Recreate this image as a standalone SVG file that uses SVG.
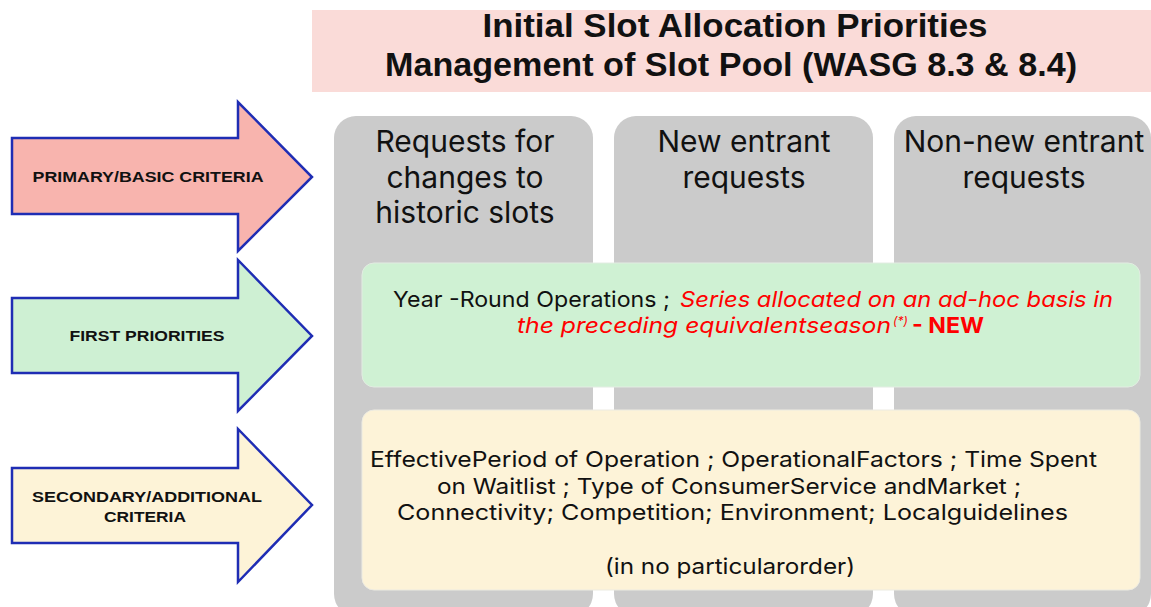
<svg xmlns="http://www.w3.org/2000/svg" width="1151" height="607" viewBox="0 0 1151 607">
  <style>
    .arrow { stroke: #1f2db4; stroke-width: 2.5; stroke-linejoin: miter; }
    .alabel { font-family: "Liberation Sans", Arial, sans-serif; font-weight: bold; font-size: 15px; fill: #111; text-anchor: middle; }
    .col { fill: #cbcbcb; }
    .colhead { font-family: Inter, "Liberation Sans", sans-serif; font-size: 30px; fill: #111; text-anchor: middle; }
    .body { font-family: Inter, "Liberation Sans", sans-serif; font-size: 22px; fill: #111; }
    .red { fill: #ff0000; }
    .it { font-style: italic; }
    .title { font-family: "Liberation Sans", Arial, sans-serif; font-weight: bold; font-size: 33px; fill: #111; text-anchor: middle; }
  </style>

  <!-- title banner -->
  <g id="title">
    <rect x="312" y="10" width="839" height="82" fill="#fadbd8"/>
    <text class="title" x="735" y="37" textLength="505" lengthAdjust="spacingAndGlyphs">Initial Slot Allocation Priorities</text>
    <text class="title" x="731" y="76" textLength="692" lengthAdjust="spacingAndGlyphs">Management of Slot Pool (WASG 8.3 &amp; 8.4)</text>
  </g>

  <!-- request columns -->
  <g id="col-historic">
    <rect class="col" x="334" y="116" width="259" height="500" rx="22"/>
    <text class="colhead" x="465" y="152">Requests for</text>
    <text class="colhead" x="465" y="188">changes to</text>
    <text class="colhead" x="465" y="223">historic slots</text>
  </g>
  <g id="col-new-entrant">
    <rect class="col" x="614" y="116" width="259" height="500" rx="22"/>
    <text class="colhead" x="744" y="152">New entrant</text>
    <text class="colhead" x="744" y="188">requests</text>
  </g>
  <g id="col-non-new-entrant">
    <rect class="col" x="894" y="116" width="257" height="500" rx="22"/>
    <text class="colhead" x="1024" y="152">Non-new entrant</text>
    <text class="colhead" x="1024" y="188">requests</text>
  </g>

  <!-- first priorities band -->
  <g id="first-priorities-box">
    <rect x="362" y="263" width="778" height="124" rx="12" fill="#cff1d3" stroke="#e2ece2" stroke-width="1"/>
    <text class="body" x="393" y="307" textLength="277" lengthAdjust="spacingAndGlyphs">Year -Round Operations ;</text>
    <text class="body red it" x="680" y="307" textLength="433" lengthAdjust="spacingAndGlyphs">Series allocated on an ad-hoc basis in</text>
    <text class="body red" y="333"><tspan class="it" x="517" textLength="374" lengthAdjust="spacingAndGlyphs">the preceding equivalentseason</tspan><tspan class="it" x="893" dy="-8" font-size="12">(*)</tspan><tspan x="912" dy="8" font-weight="bold" textLength="72" lengthAdjust="spacingAndGlyphs">- NEW</tspan></text>
  </g>

  <!-- secondary criteria band -->
  <g id="secondary-box">
    <rect x="362" y="410" width="778" height="180" rx="12" fill="#fdf3d8" stroke="#ecebe2" stroke-width="1"/>
    <text class="body" x="370" y="467" textLength="727" lengthAdjust="spacingAndGlyphs">EffectivePeriod of Operation ; OperationalFactors ; Time Spent</text>
    <text class="body" x="437" y="494" textLength="584" lengthAdjust="spacingAndGlyphs">on Waitlist ; Type of ConsumerService andMarket ;</text>
    <text class="body" x="397" y="520" textLength="671" lengthAdjust="spacingAndGlyphs">Connectivity; Competition; Environment; Localguidelines</text>
    <text class="body" x="605" y="574" textLength="250" lengthAdjust="spacingAndGlyphs">(in no particularorder)</text>
  </g>

  <!-- criteria arrows -->
  <g id="arrow-primary">
    <path class="arrow" fill="#f8b4ae" d="M12,138 H238 V102 L312,177 L238,251 V214 H12 Z"/>
    <text class="alabel" x="148" y="182" textLength="231" lengthAdjust="spacingAndGlyphs">PRIMARY/BASIC CRITERIA</text>
  </g>
  <g id="arrow-first">
    <path class="arrow" fill="#cef0d3" d="M12,298 H238 V260 L312,336 L238,411 V373 H12 Z"/>
    <text class="alabel" x="147" y="341" textLength="155" lengthAdjust="spacingAndGlyphs">FIRST PRIORITIES</text>
  </g>
  <g id="arrow-secondary">
    <path class="arrow" fill="#fdf3d7" d="M12,468 H238 V429 L312,505 L238,582 V543 H12 Z"/>
    <text class="alabel" x="147" y="502" textLength="230" lengthAdjust="spacingAndGlyphs">SECONDARY/ADDITIONAL</text>
    <text class="alabel" x="145" y="522" textLength="82" lengthAdjust="spacingAndGlyphs">CRITERIA</text>
  </g>

  <g id="connectors"/>
</svg>
